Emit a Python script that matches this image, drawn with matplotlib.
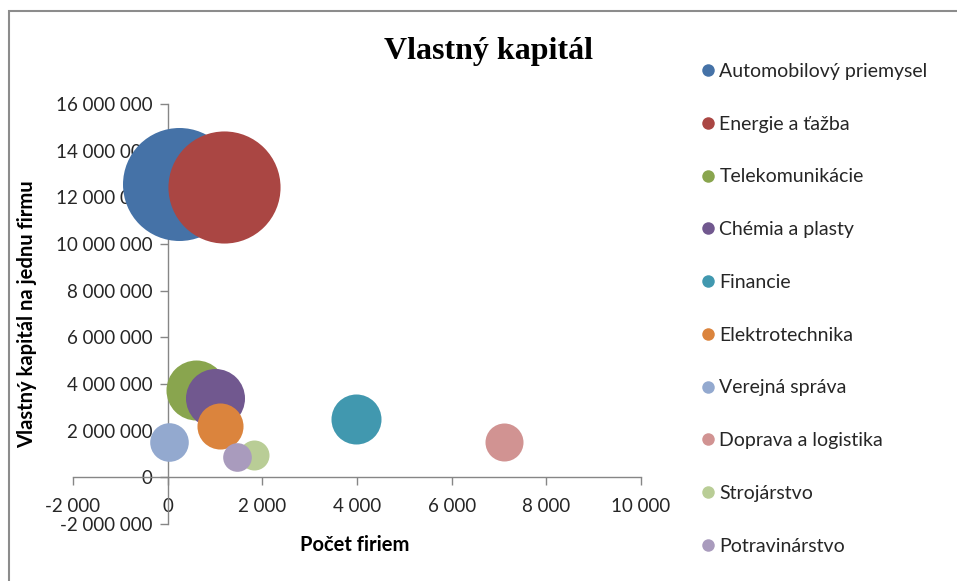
import matplotlib

matplotlib.use("Agg")
import matplotlib.pyplot as plt
from matplotlib.lines import Line2D
from matplotlib.patches import Rectangle
from matplotlib.ticker import FuncFormatter

sectors = [
    "Automobilový priemysel",
    "Energie a ťažba",
    "Telekomunikácie",
    "Chémia a plasty",
    "Financie",
    "Elektrotechnika",
    "Verejná správa",
    "Doprava a logistika",
    "Strojárstvo",
    "Potravinárstvo",
]
firm_count = [230, 1180, 590, 990, 3980, 1100, 20, 7100, 1820, 1460]
equity_per_firm = [
    12_580_000, 12_450_000, 3_760_000, 3_420_000, 2_480_000,
    2_180_000, 1_500_000, 1_500_000, 940_000, 860_000,
]
bubble_size = [3190, 3140, 900, 870, 625, 530, 372, 361, 225, 205]
colors = [
    "#4572A7", "#AA4643", "#89A54E", "#71588F", "#4198AF",
    "#DB843D", "#93A9CF", "#D19392", "#B9CD96", "#A99BBD",
]

DPI = 100
W, H = 957, 581
MAX_R_PX = 56.5  # radius of the biggest bubble

_INK = "#262626"
_AXIS = "#868686"
_FONT = "Lato"


def _thousands(v, _pos):
    s = f"{abs(int(round(v))):,}".replace(",", " ")
    return ("-" if v < 0 else "") + s


fig = plt.figure(figsize=(W / DPI, H / DPI), dpi=DPI, facecolor="white")
ax = fig.add_axes([73 / W, 1 - 524 / H, (641 - 73) / W, (524 - 104) / H])

smax = max(bubble_size)
for x, y, s, c, name in zip(firm_count, equity_per_firm, bubble_size, colors, sectors):
    diam_pt = 2 * MAX_R_PX * 72 / DPI * (s / smax) ** 0.5
    ax.scatter(x, y, s=diam_pt ** 2, color=c, linewidths=0, zorder=3, label=name)

ax.set_xlim(-2000, 10000)
ax.set_ylim(-2_000_000, 16_000_000)
ax.set_xticks(range(-2000, 10001, 2000))
ax.set_yticks(range(-2_000_000, 16_000_001, 2_000_000))
ax.xaxis.set_major_formatter(FuncFormatter(_thousands))
ax.yaxis.set_major_formatter(FuncFormatter(_thousands))

ax.spines["left"].set_position(("data", 0))
ax.spines["bottom"].set_position(("data", 0))
for side in ("top", "right"):
    ax.spines[side].set_visible(False)
for side in ("left", "bottom"):
    ax.spines[side].set_color(_AXIS)
    ax.spines[side].set_linewidth(1.0)
ax.tick_params(axis="both", direction="out", length=6, width=1.0, color=_AXIS,
               labelsize=13.5, labelcolor=_INK)
ax.tick_params(axis="x", pad=9)
ax.tick_params(axis="y", pad=5)
for lbl in ax.get_xticklabels() + ax.get_yticklabels():
    lbl.set_family(_FONT)
ax.patch.set_alpha(0)

fig.text(355 / W, 1 - 545 / H, "Počet firiem", ha="center", va="center",
         fontsize=14.5, fontweight="bold", family=_FONT, color="black")
fig.text(27 / W, 1 - 314 / H, "Vlastný kapitál na jednu firmu", ha="center",
         va="center", rotation=90, fontsize=14.5, fontweight="bold", family=_FONT,
         color="black")
fig.text(489 / W, 1 - 51 / H, "Vlastný kapitál", ha="center", va="center",
         fontsize=23, fontweight="bold", family="Liberation Serif", color="black")

# legend on the right, one row per sector
handles = [
    Line2D([], [], marker="o", linestyle="none", markersize=9,
           markerfacecolor=c, markeredgewidth=0)
    for c in colors
]
leg = fig.legend(handles, sectors, loc="upper left",
                 bbox_to_anchor=(693 / W, 1 - 55 / H), frameon=False,
                 handlelength=0.75, handletextpad=0.2, labelspacing=1.84,
                 borderaxespad=0, prop={"family": _FONT, "size": 14})
for t in leg.get_texts():
    t.set_color(_INK)

# chart-area border
fig.patches.append(Rectangle((9 / W, -0.1), 1.2, 1 - 11 / H + 0.1,
                             transform=fig.transFigure, fill=False,
                             edgecolor="#8c8c8c", linewidth=1.5))

fig.savefig("out.png", dpi=DPI, facecolor="white")
plt.close(fig)
